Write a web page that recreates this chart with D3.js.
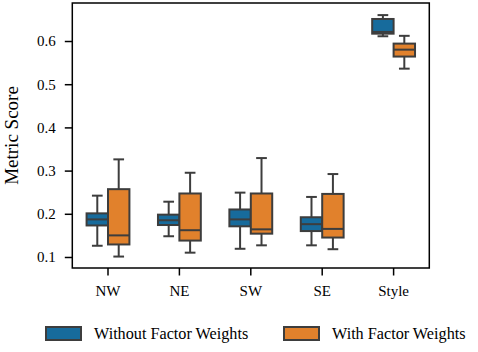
<!DOCTYPE html>
<html><head><meta charset="utf-8">
<script src="https://cdn.jsdelivr.net/npm/d3@7"></script>
<style>body{margin:0;background:#fff}svg{display:block}text{font-family:"Liberation Serif","DejaVu Serif",serif;fill:#000}</style>
</head><body><svg id="c" width="478" height="352"></svg>
<script>
const categories = ["NW","NE","SW","SE","Style"];
const seriesNames = ["Without Factor Weights","With Factor Weights"];
const seriesColors = ["#176b9c","#e1812c"];
const yTicks = [0.1,0.2,0.3,0.4,0.5,0.6];
// Without Factor Weights
const withoutLow  = [0.126,0.148,0.119,0.127,0.611];
const withoutQ1   = [0.173,0.174,0.171,0.160,0.617];
const withoutMed  = [0.187,0.185,0.187,0.176,0.621];
const withoutQ3   = [0.201,0.198,0.210,0.192,0.651];
const withoutHigh = [0.242,0.228,0.249,0.239,0.660];
// With Factor Weights
const withLow  = [0.101,0.110,0.127,0.118,0.536];
const withQ1   = [0.129,0.138,0.154,0.145,0.564];
const withMed  = [0.150,0.162,0.164,0.165,0.580];
const withQ3   = [0.257,0.247,0.247,0.246,0.594];
const withHigh = [0.326,0.295,0.329,0.292,0.612];

const series = [
  {low:withoutLow,q1:withoutQ1,med:withoutMed,q3:withoutQ3,high:withoutHigh},
  {low:withLow,q1:withQ1,med:withMed,q3:withQ3,high:withHigh}
];

const svg = d3.select("#c");
const L=72.3,R=429.3,T=3,B=268;
const x = d3.scaleBand().domain(categories).range([L,R]).padding(0);
const y = d3.scaleLinear().domain([0.0745,0.688]).range([B,T]);
const edge="#3d3d3d";
const bw = x.bandwidth();
const boxW = 0.3*bw;

series.forEach((s,si)=>{
  const g = svg.append("g");
  categories.forEach((c,i)=>{
    const cx = x(c)+bw/2 + (si===0?-1:1)*boxW/2;
    g.append("line").attr("x1",cx).attr("x2",cx).attr("y1",y(s.high[i])).attr("y2",y(s.q3[i]))
      .attr("stroke",edge).attr("stroke-width",2);
    g.append("line").attr("x1",cx).attr("x2",cx).attr("y1",y(s.q1[i])).attr("y2",y(s.low[i]))
      .attr("stroke",edge).attr("stroke-width",2);
    [s.high[i],s.low[i]].forEach(v=>{
      g.append("line").attr("x1",cx-boxW/4).attr("x2",cx+boxW/4).attr("y1",y(v)).attr("y2",y(v))
        .attr("stroke",edge).attr("stroke-width",2);
    });
    g.append("rect").attr("x",cx-boxW/2).attr("width",boxW)
      .attr("y",y(s.q3[i])).attr("height",y(s.q1[i])-y(s.q3[i]))
      .attr("fill",seriesColors[si]).attr("stroke",edge).attr("stroke-width",2);
    g.append("line").attr("x1",cx-boxW/2).attr("x2",cx+boxW/2).attr("y1",y(s.med[i])).attr("y2",y(s.med[i]))
      .attr("stroke",edge).attr("stroke-width",2);
  });
});

svg.append("rect").attr("x",L).attr("y",T).attr("width",R-L).attr("height",B-T)
  .attr("fill","none").attr("stroke","#000").attr("stroke-width",1.5);

const ya = svg.append("g").attr("transform",`translate(${L},0)`)
  .call(d3.axisLeft(y).tickValues(yTicks).tickFormat(d3.format(".1f")).tickSize(7.5).tickPadding(9));
ya.attr("font-family",null);
ya.select(".domain").remove();
ya.selectAll("line").attr("stroke","#000").attr("stroke-width",1.5);
ya.selectAll("text").style("font-size","15px").style("font-family","'Liberation Serif',serif");

const xa = svg.append("g").attr("transform",`translate(0,${B})`)
  .call(d3.axisBottom(x).tickSize(7.5).tickPadding(10));
xa.attr("font-family",null);
xa.select(".domain").remove();
xa.selectAll("line").attr("stroke","#000").attr("stroke-width",1.5);
xa.selectAll("text").style("font-size","15px").style("font-family","'Liberation Serif',serif");

svg.append("text").attr("transform",`translate(18,${(T+B)/2}) rotate(-90)`)
  .attr("text-anchor","middle").style("font-size","19px").text("Metric Score");

const legX=[46,284];
seriesNames.forEach((n,i)=>{
  svg.append("rect").attr("x",legX[i]).attr("y",327).attr("width",35).attr("height",13)
    .attr("fill",seriesColors[i]).attr("stroke",edge).attr("stroke-width",2);
  svg.append("text").attr("x",legX[i]+48).attr("y",338.5).style("font-size","16.2px").text(n);
});
</script></body></html>
